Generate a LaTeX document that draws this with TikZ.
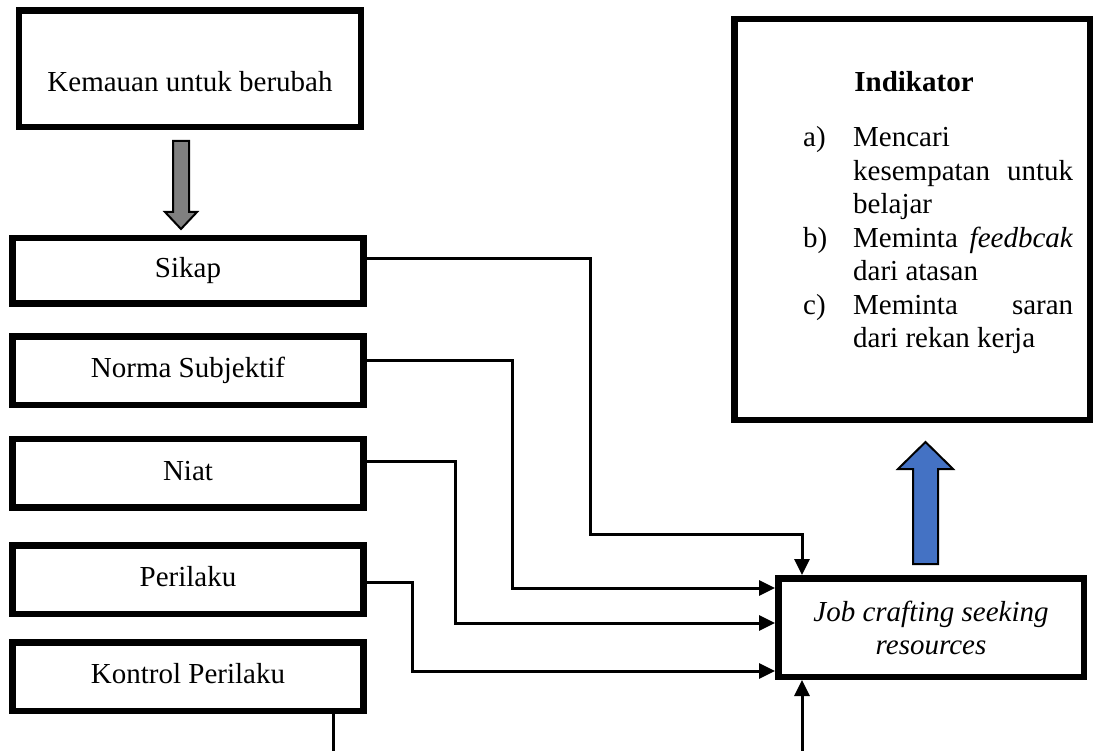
\documentclass[tikz,border=0pt]{standalone}
\usepackage{fontspec}
\setmainfont{Liberation Serif}
\usetikzlibrary{arrows.meta,calc}
\definecolor{arrgray}{HTML}{808080}
\definecolor{arrblue}{HTML}{4472C4}
\begin{document}
\begin{tikzpicture}[x=1pt,y=-1pt,
  frame/.style={draw=black,line width=6.5pt,inner sep=0pt,font=\fontsize{29}{33}\selectfont},
  onel/.style={frame,minimum width=351pt,text height=20.3pt,text depth=6.4pt},
  conn/.style={draw=black,line width=3pt},
  arr/.style={-{Triangle[length=16pt,width=15pt]}},
  fat/.style={draw=black,line width=2pt,line join=miter}]
\useasboundingbox (0,0) rectangle (1100,751);

% boxes
\node[onel,minimum width=341.8pt,minimum height=116.2pt,text height=53pt] (kem) at (190,68.7) {Kemauan untuk berubah};
\node[onel,minimum height=65.2pt] (sikap) at (188,270.8) {Sikap};
\node[onel,minimum height=68.5pt] (norma) at (188,370.8) {Norma Subjektif};
\node[onel,minimum height=68.5pt] (niat) at (188,473.4) {Niat};
\node[onel,minimum height=68.5pt] (peri) at (188,579.5) {Perilaku};
\node[onel,minimum height=68.5pt] (kon) at (188,676.5) {Kontrol Perilaku};
\node[frame,minimum width=355.5pt,minimum height=400.5pt] (ind) at (912,219.5) {};
\node[frame,minimum width=305.5pt,minimum height=98.5pt,align=center,font=\fontsize{29}{33}\selectfont\itshape] (job) at (931,627.5) {Job crafting seeking\\resources};

% indicator texts
\node[anchor=base,inner sep=0pt,font=\fontsize{29}{33.5}\selectfont\bfseries] (indt) at (914,92) {Indikator};
\node[anchor=base west,inner sep=0pt,font=\fontsize{29}{33.5}\selectfont] (indl) at (803,147) {\begin{tabular}[t]{@{}l@{}l@{}}
\makebox[50pt][l]{a)} & Mencari\\
 & \makebox[220pt][s]{kesempatan untuk}\\
 & belajar\\
\makebox[50pt][l]{b)} & \makebox[220pt][s]{Meminta \textit{feedbcak}}\\
 & dari atasan\\
\makebox[50pt][l]{c)} & \makebox[220pt][s]{Meminta saran}\\
 & dari rekan kerja
\end{tabular}};

% fat arrows
\draw[fat,fill=arrgray] (173,141) -- (189,141) -- (189,212) -- (197,212) -- (181,229) -- (165,212) -- (173,212) -- cycle;
\draw[fat,fill=arrblue] (913,564) -- (938,564) -- (938,469) -- (953,469) -- (925.5,442) -- (898,469) -- (913,469) -- cycle;

% connectors
\coordinate (s1) at (590,534);
\coordinate (n1) at (512,588);
\coordinate (t1) at (455,623);
\coordinate (p1) at (412,671);
\draw[conn,arr] ([yshift=12.5pt]sikap.east) -| (s1) -| ([xshift=-129pt]job.north);
\draw[conn,arr] ([yshift=10.8pt]norma.east) -| (n1) -- (n1 -| job.west);
\draw[conn,arr] ([yshift=11.7pt]niat.east) -| (t1) -- (t1 -| job.west);
\draw[conn,arr] ([yshift=-2.5pt]peri.east) -| (p1) -- (p1 -| job.west);
\coordinate (kend) at (333,751);
\draw[conn] (kend |- kon.south) -- (kend);
\coordinate (jbeg) at (802,751);
\draw[conn,arr] (jbeg) -- (jbeg |- job.south);
\end{tikzpicture}
\end{document}
